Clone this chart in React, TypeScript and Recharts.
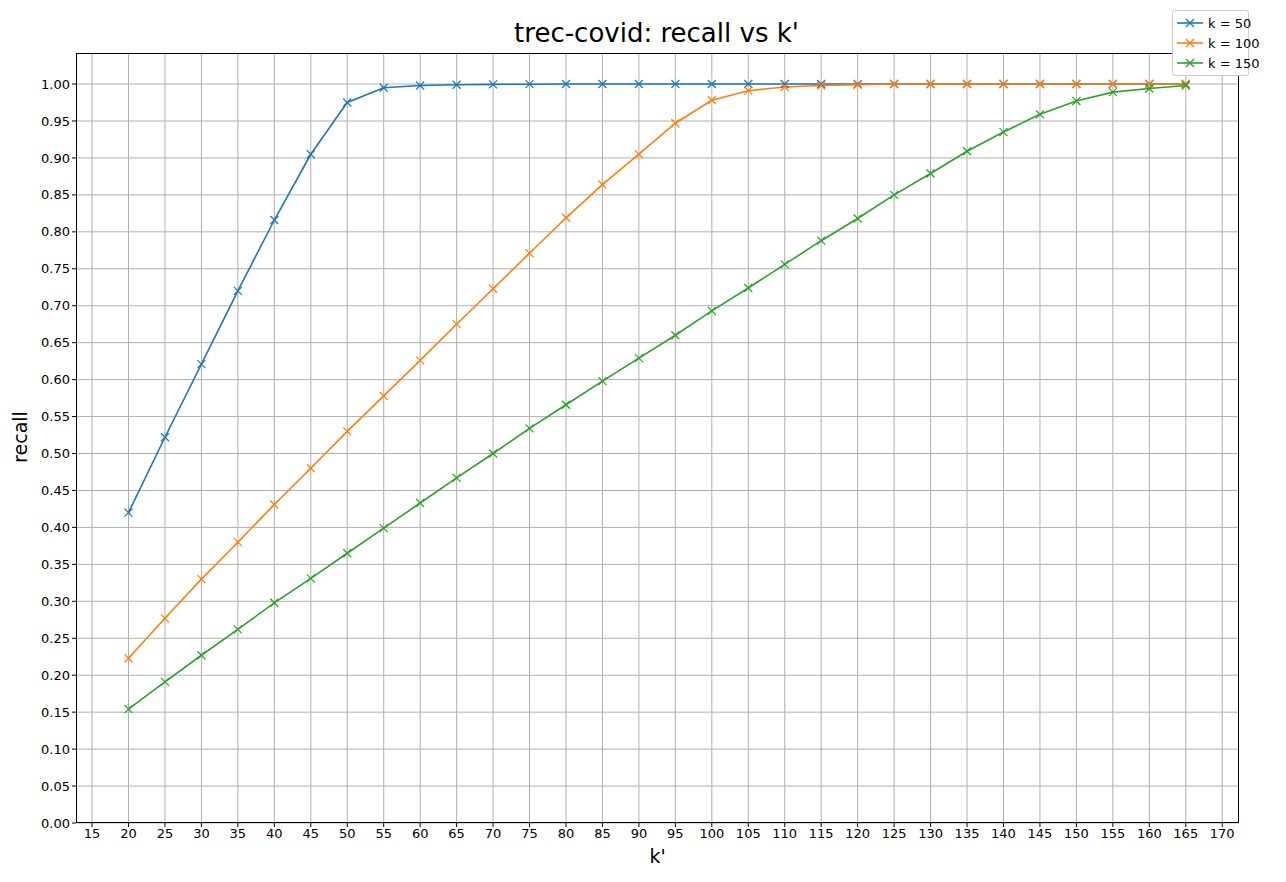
import { LineChart, Line, CartesianGrid, XAxis, YAxis, Label } from 'recharts';

const K_PRIME = [20, 25, 30, 35, 40, 45, 50, 55, 60, 65, 70, 75, 80, 85, 90, 95, 100, 105, 110, 115, 120, 125, 130, 135, 140, 145, 150, 155, 160, 165];
const K50 = [0.42, 0.522, 0.621, 0.72, 0.816, 0.905, 0.975, 0.995, 0.998, 0.999, 0.9995, 0.9998, 1, 1, 1, 1, 1, 1, 1, 1, 1, 1, 1, 1, 1, 1, 1, 1, 1, 1];
const K100 = [0.223, 0.277, 0.33, 0.38, 0.431, 0.48, 0.53, 0.578, 0.626, 0.675, 0.723, 0.771, 0.819, 0.864, 0.905, 0.947, 0.978, 0.991, 0.996, 0.998, 0.999, 1, 1, 1, 1, 1, 1, 1, 1, 1];
const K150 = [0.154, 0.191, 0.227, 0.262, 0.298, 0.331, 0.365, 0.399, 0.433, 0.467, 0.5, 0.534, 0.566, 0.598, 0.629, 0.66, 0.693, 0.724, 0.756, 0.788, 0.818, 0.85, 0.879, 0.909, 0.935, 0.959, 0.977, 0.989, 0.994, 0.998];
const X_TICKS = Array.from({ length: 32 }, (_, i) => 15 + i * 5);
const Y_TICKS = Array.from({ length: 21 }, (_, i) => Math.round(i * 5) / 100);

const SERIES = [
  { key: 'k50', name: 'k = 50', color: '#1f77b4', values: K50 },
  { key: 'k100', name: 'k = 100', color: '#ff7f0e', values: K100 },
  { key: 'k150', name: 'k = 150', color: '#2ca02c', values: K150 },
];

const data = K_PRIME.map((k, i) => {
  const row: any = { k };
  SERIES.forEach((s) => (row[s.key] = s.values[i]));
  return row;
});

const Cross = (color: string) => (props: any) => {
  const { cx, cy } = props;
  if (cx == null || cy == null) return null;
  const r = 4;
  return (
    <g key={`${cx}-${cy}`} stroke={color} strokeWidth={1.2}>
      <line x1={cx - r} y1={cy - r} x2={cx + r} y2={cy + r} />
      <line x1={cx - r} y1={cy + r} x2={cx + r} y2={cy - r} />
    </g>
  );
};

const FONT = 'DejaVu Sans, sans-serif';

export default function App() {
  return (
    <div style={{ position: 'absolute', left: 0, top: 0, width: 1286, height: 882, background: '#fff', fontFamily: FONT }}>
      <div style={{ position: 'absolute', top: 18, left: 0, width: 1313, textAlign: 'center', fontSize: 26 }}>
        trec-covid: recall vs k'
      </div>
      <LineChart width={1286} height={882} data={data} margin={{ top: 53, right: 47, bottom: 19, left: 16 }}>
        <CartesianGrid stroke="#b0b0b0" strokeWidth={1} horizontalValues={Y_TICKS} verticalValues={X_TICKS} />
        <XAxis
          dataKey="k"
          type="number"
          domain={[12.8, 172.3]}
          ticks={X_TICKS}
          interval={0}
          height={40}
          tick={{ fill: '#000', fontSize: 13, fontFamily: FONT }}
          tickLine={{ stroke: '#000' }}
          axisLine={false}
          tickSize={4}
        >
          <Label value="k'" position="insideBottom" offset={0} style={{ fill: '#000', fontSize: 19, fontFamily: FONT }} />
        </XAxis>
        <YAxis
          type="number"
          domain={[0, 1.042]}
          ticks={Y_TICKS}
          interval={0}
          width={60}
          tickFormatter={(v: number) => v.toFixed(2)}
          tick={{ fill: '#000', fontSize: 13, fontFamily: FONT }}
          tickLine={{ stroke: '#000' }}
          axisLine={false}
          tickSize={4}
        />
        {SERIES.map((s) => (
          <Line
            key={s.key}
            dataKey={s.key}
            name={s.name}
            stroke={s.color}
            strokeWidth={1.6}
            type="linear"
            dot={Cross(s.color)}
            activeDot={false}
            isAnimationActive={false}
          />
        ))}
      </LineChart>
      <div style={{ position: 'absolute', left: -30, top: 426, width: 100, textAlign: 'center', fontSize: 19, transform: 'rotate(-90deg)' }}>
        recall
      </div>
      <div style={{ position: 'absolute', left: 76, top: 53, width: 1163, height: 770, border: '1px solid #000', boxSizing: 'border-box', pointerEvents: 'none' }} />
      <div style={{ position: 'absolute', left: 1172, top: 10, width: 77, height: 66, border: '1px solid #ccc', borderRadius: 3, background: '#fff', boxSizing: 'border-box', fontSize: 13, padding: '2px 4px' }}>
        {SERIES.map((s) => (
          <div key={s.key} style={{ display: 'flex', alignItems: 'center', height: 20, whiteSpace: 'nowrap' }}>
            <svg width={26} height={12} style={{ marginRight: 5, flexShrink: 0 }}>
              <line x1={0} y1={6} x2={26} y2={6} stroke={s.color} strokeWidth={1.6} />
              <line x1={9} y1={2} x2={17} y2={10} stroke={s.color} strokeWidth={1.2} />
              <line x1={9} y1={10} x2={17} y2={2} stroke={s.color} strokeWidth={1.2} />
            </svg>
            <span>{s.name}</span>
          </div>
        ))}
      </div>
    </div>
  );
}
